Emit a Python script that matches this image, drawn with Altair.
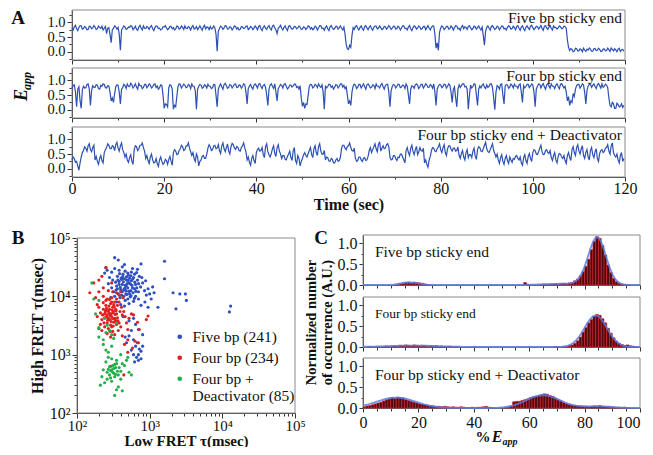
import altair as alt
import pandas as pd

FONT = "Liberation Serif, Times New Roman, DejaVu Serif, serif"
W, H = 637, 439
INK = "#111111"
TRACE_BLUE = "#2c50b4"
FIT_BLUE = "#5a7de0"
BAR_FILL = "#4a0a10"
BAR_EDGE = "#e0202a"
FRAME = "#8a8a8a"

# ---------------- Panel A : FRET traces (0.25 s sampling) ----------------
TIME = [i * 0.25 for i in range(480)]
TRACE_LABELS = ["Five bp sticky end", "Four bp sticky end", "Four bp sticky end + Deactivator"]

TRACE_FIVE = [
    0.80, 0.74, 0.85, 0.90, 0.78, 0.72, 0.83, 0.88, 0.88, 0.77, 0.79, 0.86, 0.82, 0.75, 0.76, 0.87, 0.86, 0.78, 0.81, 0.89,
    0.84, 0.76, 0.78, 0.87, 0.83, 0.79, 0.87, 0.74, 0.80, 0.86, 0.62, 0.80, 0.82, 0.58, 0.31, 0.75, 0.79, 0.88, 0.84, 0.77,
    0.83, 0.60, 0.05, 0.74, 0.80, 0.88, 0.85, 0.76, 0.78, 0.84, 0.83, 0.89, 0.86, 0.75, 0.80, 0.87, 0.77, 0.73, 0.84, 0.90,
    0.81, 0.74, 0.88, 0.80, 0.79, 0.86, 0.83, 0.76, 0.85, 0.89, 0.78, 0.72, 0.82, 0.88, 0.87, 0.79, 0.80, 0.74, 0.76, 0.85,
    0.84, 0.89, 0.81, 0.75, 0.79, 0.86, 0.86, 0.78, 0.82, 0.74, 0.78, 0.87, 0.85, 0.77, 0.80, 0.88, 0.83, 0.76, 0.88, 0.80,
    0.79, 0.86, 0.82, 0.74, 0.84, 0.89, 0.77, 0.80, 0.86, 0.75, 0.81, 0.88, 0.80, 0.73, 0.85, 0.90, 0.78, 0.84, 0.83, 0.75,
    0.86, 0.78, 0.80, 0.88, 0.82, 0.60, 0.02, 0.70, 0.79, 0.87, 0.84, 0.76, 0.81, 0.89, 0.87, 0.77, 0.78, 0.85, 0.83, 0.74,
    0.80, 0.88, 0.85, 0.77, 0.82, 0.74, 0.76, 0.86, 0.84, 0.79, 0.81, 0.87, 0.88, 0.75, 0.79, 0.86, 0.83, 0.75, 0.80, 0.88,
    0.82, 0.75, 0.86, 0.89, 0.78, 0.72, 0.83, 0.88, 0.80, 0.76, 0.84, 0.89, 0.79, 0.74, 0.87, 0.90, 0.81, 0.75, 0.62, 0.80,
    0.84, 0.90, 0.80, 0.74, 0.83, 0.88, 0.78, 0.72, 0.86, 0.89, 0.82, 0.77, 0.79, 0.86, 0.85, 0.78, 0.81, 0.88, 0.84, 0.76,
    0.77, 0.85, 0.83, 0.76, 0.80, 0.88, 0.86, 0.77, 0.82, 0.75, 0.79, 0.87, 0.84, 0.74, 0.81, 0.89, 0.88, 0.79, 0.80, 0.73,
    0.83, 0.88, 0.78, 0.72, 0.85, 0.89, 0.81, 0.76, 0.79, 0.86, 0.86, 0.77, 0.82, 0.88, 0.80, 0.74, 0.84, 0.60, 0.25, 0.10,
    0.08, 0.22, 0.15, 0.55, 0.82, 0.76, 0.86, 0.89, 0.80, 0.74, 0.83, 0.88, 0.78, 0.73, 0.85, 0.89, 0.81, 0.75, 0.84, 0.88,
    0.79, 0.73, 0.83, 0.87, 0.87, 0.78, 0.80, 0.88, 0.82, 0.75, 0.78, 0.86, 0.85, 0.77, 0.81, 0.89, 0.84, 0.76, 0.80, 0.87,
    0.86, 0.77, 0.79, 0.87, 0.83, 0.74, 0.81, 0.88, 0.88, 0.79, 0.80, 0.74, 0.84, 0.89, 0.78, 0.72, 0.82, 0.88, 0.85, 0.77,
    0.81, 0.88, 0.84, 0.76, 0.79, 0.86, 0.86, 0.75, 0.82, 0.89, 0.80, 0.74, 0.83, 0.88, 0.87, 0.60, 0.12, 0.30, 0.05, 0.65,
    0.81, 0.88, 0.84, 0.75, 0.80, 0.86, 0.86, 0.77, 0.79, 0.88, 0.83, 0.74, 0.82, 0.89, 0.88, 0.78, 0.80, 0.73, 0.84, 0.89,
    0.78, 0.85, 0.83, 0.76, 0.86, 0.89, 0.81, 0.75, 0.79, 0.87, 0.85, 0.77, 0.82, 0.88, 0.80, 0.74, 0.84, 0.55, 0.22, 0.70,
    0.83, 0.88, 0.80, 0.74, 0.86, 0.89, 0.82, 0.76, 0.79, 0.87, 0.84, 0.75, 0.81, 0.88, 0.87, 0.78, 0.80, 0.74, 0.83, 0.89,
    0.85, 0.77, 0.79, 0.87, 0.82, 0.75, 0.86, 0.89, 0.80, 0.73, 0.84, 0.88, 0.78, 0.72, 0.83, 0.88, 0.81, 0.76, 0.87, 0.90,
    0.82, 0.75, 0.80, 0.87, 0.85, 0.77, 0.83, 0.89, 0.79, 0.73, 0.86, 0.89, 0.81, 0.76, 0.84, 0.88, 0.80, 0.74, 0.88, 0.82,
    0.83, 0.77, 0.81, 0.88, 0.85, 0.78, 0.80, 0.87, 0.86, 0.80, 0.40, 0.15, 0.04, 0.11, 0.08, 0.00, 0.02, 0.12, 0.10, 0.03,
    0.03, 0.10, 0.07, 0.00, 0.12, 0.06, 0.01, 0.09, 0.06, 0.13, 0.09, 0.02, 0.02, 0.10, 0.11, 0.04, 0.05, 0.12, 0.08, 0.01,
    0.02, 0.09, 0.10, 0.03, 0.04, 0.12, 0.07, 0.01, 0.13, 0.08, 0.03, 0.10, 0.06, 0.00, 0.09, 0.12, 0.01, 0.06, 0.08, 0.02,
]

TRACE_FOUR = [
    0.72, 0.82, 0.85, 0.60, 0.10, 0.70, 0.78, 0.30, 0.05, 0.68, 0.80, 0.74, 0.75, 0.86, 0.88, 0.70, 0.15, 0.65, 0.82, 0.76,
    0.76, 0.86, 0.84, 0.72, 0.70, 0.83, 0.80, 0.88, 0.86, 0.75, 0.74, 0.82, 0.81, 0.60, 0.30, 0.40, 0.25, 0.55, 0.78, 0.85,
    0.83, 0.60, 0.20, 0.70, 0.75, 0.86, 0.82, 0.72, 0.88, 0.80, 0.79, 0.90, 0.85, 0.74, 0.80, 0.88, 0.77, 0.70, 0.90, 0.82,
    0.82, 0.72, 0.76, 0.86, 0.86, 0.75, 0.80, 0.88, 0.84, 0.74, 0.78, 0.86, 0.88, 0.76, 0.81, 0.70, 0.75, 0.85, 0.83, 0.50,
    0.05, 0.20, 0.18, 0.10, 0.75, 0.85, 0.82, 0.70, 0.02, 0.15, 0.10, 0.45, 0.79, 0.88, 0.86, 0.74, 0.80, 0.87, 0.84, 0.75,
    0.77, 0.86, 0.83, 0.72, 0.88, 0.80, 0.80, 0.65, 0.02, 0.70, 0.79, 0.86, 0.84, 0.73, 0.76, 0.85, 0.82, 0.74, 0.87, 0.80,
    0.80, 0.72, 0.75, 0.86, 0.85, 0.50, 0.10, 0.70, 0.81, 0.88, 0.78, 0.70, 0.86, 0.90, 0.82, 0.73, 0.76, 0.86, 0.84, 0.74,
    0.80, 0.87, 0.88, 0.76, 0.77, 0.84, 0.83, 0.73, 0.79, 0.88, 0.85, 0.60, 0.20, 0.72, 0.81, 0.86, 0.76, 0.70, 0.84, 0.88,
    0.82, 0.74, 0.87, 0.89, 0.79, 0.72, 0.83, 0.86, 0.76, 0.50, 0.15, 0.70, 0.84, 0.88, 0.80, 0.73, 0.88, 0.60, 0.30, 0.72,
    0.78, 0.86, 0.83, 0.74, 0.86, 0.89, 0.80, 0.71, 0.75, 0.84, 0.84, 0.77, 0.81, 0.88, 0.87, 0.76, 0.79, 0.70, 0.82, 0.40,
    0.12, 0.25, 0.05, 0.20, 0.18, 0.50, 0.80, 0.86, 0.85, 0.74, 0.78, 0.86, 0.83, 0.75, 0.88, 0.80, 0.76, 0.85, 0.60, 0.02,
    0.82, 0.74, 0.79, 0.87, 0.86, 0.76, 0.81, 0.70, 0.77, 0.86, 0.84, 0.74, 0.80, 0.88, 0.88, 0.77, 0.83, 0.72, 0.78, 0.50,
    0.20, 0.30, 0.15, 0.60, 0.80, 0.87, 0.84, 0.72, 0.77, 0.86, 0.86, 0.74, 0.81, 0.88, 0.79, 0.70, 0.85, 0.88, 0.82, 0.74,
    0.76, 0.85, 0.83, 0.72, 0.88, 0.80, 0.80, 0.74, 0.84, 0.89, 0.78, 0.70, 0.82, 0.86, 0.87, 0.60, 0.10, 0.65, 0.79, 0.86,
    0.84, 0.74, 0.80, 0.87, 0.86, 0.75, 0.77, 0.84, 0.82, 0.72, 0.88, 0.80, 0.50, 0.20, 0.70, 0.81, 0.79, 0.73, 0.85, 0.88,
    0.83, 0.72, 0.78, 0.86, 0.86, 0.74, 0.80, 0.88, 0.84, 0.76, 0.77, 0.86, 0.82, 0.73, 0.88, 0.60, 0.15, 0.70, 0.81, 0.86,
    0.84, 0.75, 0.79, 0.87, 0.86, 0.74, 0.80, 0.88, 0.83, 0.60, 0.25, 0.70, 0.78, 0.40, 0.10, 0.70, 0.85, 0.76, 0.82, 0.88,
    0.88, 0.78, 0.80, 0.70, 0.02, 0.50, 0.84, 0.74, 0.79, 0.88, 0.86, 0.50, 0.15, 0.70, 0.81, 0.74, 0.83, 0.88, 0.77, 0.72,
    0.85, 0.76, 0.80, 0.88, 0.88, 0.75, 0.40, 0.00, 0.60, 0.82, 0.79, 0.70, 0.86, 0.88, 0.50, 0.20, 0.81, 0.86, 0.84, 0.73,
    0.78, 0.87, 0.83, 0.74, 0.87, 0.80, 0.80, 0.73, 0.85, 0.88, 0.60, 0.25, 0.82, 0.74, 0.79, 0.86, 0.86, 0.75, 0.81, 0.88,
    0.84, 0.60, 0.10, 0.70, 0.80, 0.88, 0.87, 0.74, 0.83, 0.89, 0.78, 0.70, 0.85, 0.88, 0.82, 0.73, 0.88, 0.80, 0.80, 0.72,
    0.84, 0.88, 0.79, 0.71, 0.86, 0.89, 0.82, 0.74, 0.80, 0.60, 0.30, 0.45, 0.15, 0.30, 0.25, 0.55, 0.45, 0.70, 0.82, 0.86,
    0.86, 0.74, 0.80, 0.88, 0.84, 0.60, 0.20, 0.65, 0.81, 0.86, 0.87, 0.76, 0.83, 0.88, 0.79, 0.72, 0.85, 0.89, 0.82, 0.74,
    0.88, 0.76, 0.80, 0.87, 0.84, 0.75, 0.40, 0.15, 0.10, 0.25, 0.20, 0.05, 0.05, 0.22, 0.18, 0.10, 0.12, 0.20, 0.08, 0.15,
]

TRACE_DEACT = [
    0.30, 0.40, 0.35, 0.22, 0.25, 0.10, -0.05, 0.20, 0.40, 0.55, 0.62, 0.75, 0.70, 0.60, 0.78, 0.85, 0.65, 0.58, 0.72, 0.80,
    0.30, 0.42, 0.25, 0.15, 0.35, 0.45, 0.28, 0.20, 0.55, 0.65, 0.72, 0.85, 0.80, 0.68, 0.68, 0.78, 0.75, 0.62, 0.82, 0.90,
    0.70, 0.60, 0.78, 0.88, 0.65, 0.55, 0.40, 0.50, 0.30, 0.22, 0.38, 0.48, 0.25, 0.15, 0.65, 0.78, 0.75, 0.62, 0.68, 0.80,
    0.80, 0.88, 0.72, 0.60, 0.35, 0.45, 0.28, 0.18, 0.40, 0.50, 0.30, 0.20, 0.22, 0.35, 0.18, 0.08, 0.30, 0.40, 0.25, 0.15,
    0.20, 0.32, 0.28, 0.15, 0.32, 0.42, 0.25, 0.12, 0.55, 0.65, 0.60, 0.48, 0.50, 0.62, 0.68, 0.80, 0.75, 0.62, 0.65, 0.78,
    0.78, 0.88, 0.70, 0.58, 0.45, 0.55, 0.35, 0.25, 0.50, 0.40, 0.10, 0.25, 0.30, 0.42, 0.45, 0.35, 0.35, 0.50, 0.70, 0.82,
    0.75, 0.62, 0.65, 0.78, 0.80, 0.68, 0.70, 0.82, 0.62, 0.52, 0.78, 0.88, 0.68, 0.58, 0.72, 0.84, 0.60, 0.50, 0.75, 0.86,
    0.82, 0.70, 0.66, 0.76, 0.73, 0.62, 0.60, 0.72, 0.78, 0.88, 0.70, 0.58, 0.30, 0.40, 0.22, 0.12, 0.35, 0.45, 0.28, 0.18,
    0.55, 0.65, 0.70, 0.60, 0.62, 0.72, 0.48, 0.38, 0.75, 0.85, 0.58, 0.48, 0.40, 0.52, 0.68, 0.78, 0.52, 0.42, 0.72, 0.82,
    0.60, 0.50, 0.35, 0.45, 0.45, 0.32, 0.30, 0.42, 0.50, 0.60, 0.38, 0.28, 0.62, 0.72, 0.28, 0.18, 0.45, 0.35, 0.10, 0.25,
    0.35, 0.48, 0.55, 0.45, 0.40, 0.52, 0.62, 0.72, 0.48, 0.38, 0.68, 0.78, 0.55, 0.45, 0.75, 0.85, 0.60, 0.50, 0.50, 0.62,
    0.30, 0.40, 0.38, 0.26, 0.25, 0.35, 0.32, 0.20, 0.20, 0.30, 0.35, 0.25, 0.28, 0.40, 0.70, 0.80, 0.80, 0.70, 0.65, 0.76,
    0.78, 0.88, 0.72, 0.62, 0.60, 0.70, 0.35, 0.25, 0.28, 0.40, 0.40, 0.30, 0.25, 0.36, 0.38, 0.28, 0.30, 0.42, 0.62, 0.72,
    0.55, 0.65, 0.75, 0.85, 0.68, 0.58, 0.82, 0.92, 0.60, 0.70, 0.78, 0.68, 0.70, 0.82, 0.85, 0.75, 0.40, 0.30, 0.32, 0.45,
    0.45, 0.35, 0.28, 0.40, 0.38, 0.50, 0.50, 0.40, 0.30, 0.20, 0.62, 0.72, 0.55, 0.45, 0.70, 0.80, 0.58, 0.48, 0.65, 0.76,
    0.48, 0.58, 0.72, 0.62, 0.60, 0.70, 0.20, 0.30, 0.15, 0.05, 0.30, 0.42, 0.62, 0.72, 0.70, 0.60, 0.58, 0.68, 0.75, 0.85,
    0.65, 0.55, 0.72, 0.82, 0.55, 0.45, 0.68, 0.78, 0.78, 0.66, 0.60, 0.70, 0.70, 0.60, 0.62, 0.74, 0.45, 0.35, 0.52, 0.62,
    0.40, 0.30, 0.55, 0.65, 0.38, 0.48, 0.48, 0.38, 0.60, 0.70, 0.42, 0.32, 0.65, 0.75, 0.72, 0.60, 0.58, 0.68, 0.80, 0.90,
    0.68, 0.58, 0.55, 0.65, 0.75, 0.85, 0.62, 0.52, 0.40, 0.50, 0.30, 0.18, 0.38, 0.48, 0.25, 0.15, 0.35, 0.45, 0.28, 0.18,
    0.40, 0.30, 0.22, 0.35, 0.32, 0.42, 0.45, 0.35, 0.30, 0.40, 0.20, 0.12, 0.38, 0.48, 0.28, 0.18, 0.42, 0.52, 0.35, 0.25,
    0.55, 0.65, 0.62, 0.50, 0.48, 0.58, 0.70, 0.80, 0.58, 0.48, 0.50, 0.62, 0.65, 0.55, 0.52, 0.62, 0.38, 0.28, 0.45, 0.55,
    0.30, 0.20, 0.42, 0.52, 0.50, 0.40, 0.35, 0.45, 0.28, 0.18, 0.45, 0.55, 0.38, 0.28, 0.65, 0.75, 0.55, 0.45, 0.72, 0.82,
    0.60, 0.50, 0.68, 0.78, 0.45, 0.35, 0.55, 0.65, 0.40, 0.30, 0.62, 0.72, 0.48, 0.38, 0.58, 0.68, 0.35, 0.25, 0.52, 0.62,
    0.65, 0.55, 0.58, 0.70, 0.72, 0.82, 0.60, 0.50, 0.78, 0.88, 0.55, 0.45, 0.40, 0.50, 0.30, 0.20, 0.45, 0.55, 0.25, 0.35,
]

# ---------------- Panel B : dwell times (low FRET tau, high FRET tau) in msec ----------------
LEGEND_LABELS = ["Five bp (241)", "Four bp (234)", "Four bp + Deactivator (85)"]
SCATTER_COLORS = ["#2f4fc0", "#e02020", "#22b04a"]

FIVE_BP = [
    (320, 12000), (350, 15000), (380, 18000), (400, 13000), (420, 16000), (450, 20000), (470, 11000),
    (500, 14000), (520, 17000), (550, 12500), (360, 22000), (390, 9500), (430, 24000), (460, 8500),
    (480, 19000), (510, 23000), (540, 9800), (570, 15500), (600, 21000), (620, 13500), (340, 17500),
    (370, 11000), (410, 10500), (440, 13000), (490, 16500), (530, 20500), (560, 18500), (590, 11500),
    (640, 16000), (680, 19000), (700, 12000), (720, 22000), (750, 14500), (800, 17000), (850, 12500),
    (900, 10500), (950, 13500), (1000, 11000), (1050, 9000), (300, 26000), (330, 30000), (380, 28000),
    (420, 32000), (460, 27000), (500, 25000), (560, 26000), (620, 24000), (660, 25500), (300, 14000),
    (310, 19000), (280, 21000), (260, 28000), (250, 31000), (240, 25000), (270, 16500), (290, 9500),
    (350, 8000), (400, 7200), (450, 6800), (520, 7500), (600, 8200), (700, 9000), (760, 7000),
    (860, 8000), (950, 6500), (1150, 11500), (1100, 14500), (880, 18500), (780, 21000), (680, 29000),
    (580, 30000), (450, 35000), (330, 46000), (370, 42000), (760, 36000), (1600, 40000), (1600, 20000),
    (2100, 11500), (2600, 11000), (3100, 11000), (3200, 8500), (2300, 6100), (1300, 6500),
    (12500, 5400), (13000, 6800), (430, 4500), (520, 3800), (600, 4200), (640, 3300), (560, 2600),
    (520, 2100), (600, 1800), (680, 1600), (640, 1400), (720, 1250), (800, 1400), (560, 1200),
    (600, 1000), (660, 900), (700, 800), (760, 850), (620, 750), (700, 1000), (760, 1150), (480, 1600),
    (460, 2000), (700, 2700), (800, 2200), (350, 3800), (440, 10000), (470, 12500), (410, 19500),
    (380, 16000), (530, 11000), (580, 14000), (640, 10000), (500, 9000), (360, 13500), (330, 10000),
    (460, 15500), (420, 12000), (480, 21500), (550, 22500), (395, 14200), (435, 17800), (475, 15200),
    (515, 12200), (455, 13800), (405, 20500), (365, 19000), (545, 16200), (585, 19800), (625, 17500),
    (665, 14000), (705, 16500), (505, 18800), (425, 21800), (385, 24500), (345, 12800), (555, 10200),
    (615, 9200), (645, 12200), (485, 10800),
]

FOUR_BP = [
    (220, 4000), (240, 5000), (260, 3500), (280, 6000), (300, 4500), (320, 5500), (340, 3800),
    (250, 7000), (270, 2800), (290, 3200), (310, 6500), (330, 4200), (350, 5000), (230, 6000),
    (260, 4800), (280, 4000), (300, 3000), (320, 3600), (240, 3000), (270, 5600), (290, 7500),
    (310, 2500), (340, 6000), (360, 4300), (380, 3500), (210, 5200), (230, 7800), (250, 8500),
    (280, 8800), (300, 9500), (330, 8000), (360, 7000), (390, 5500), (420, 4800), (400, 3000),
    (370, 2600), (260, 2300), (290, 2000), (330, 2200), (200, 6500), (190, 7200), (210, 3300),
    (220, 2600), (350, 3300), (310, 5200), (270, 4300), (250, 5800), (320, 7200), (290, 5000),
    (240, 4300), (350, 9000), (380, 8000), (410, 6500), (440, 5500), (460, 4500), (480, 3500),
    (500, 2700), (520, 4200), (560, 5000), (600, 4800), (680, 3600), (720, 2700), (900, 4000),
    (950, 4600), (700, 1600), (630, 1700), (580, 1300), (500, 1800), (450, 1500), (420, 2100),
    (440, 450), (290, 630), (500, 1100), (170, 17000), (200, 19000), (250, 31000), (230, 14000),
    (200, 12000), (270, 12500), (310, 12000), (350, 11500), (180, 9500), (300, 17000), (220, 22000),
    (260, 9000), (230, 10000), (380, 10500), (430, 9500), (400, 12000), (190, 4500), (200, 2800),
    (150, 11500), (265, 3900), (285, 4700), (305, 5800), (325, 4100), (245, 5400), (275, 6800),
    (295, 3700), (315, 3100), (335, 4900), (255, 4400), (225, 4800), (345, 5700), (365, 3800),
    (235, 3500), (285, 2500), (305, 4200), (275, 5200), (255, 6200), (325, 6600), (300, 8000),
]

FOUR_BP_DEACT = [
    (260, 500), (280, 450), (300, 550), (320, 480), (340, 600), (360, 520), (290, 400), (310, 650),
    (330, 420), (270, 560), (350, 700), (300, 350), (320, 580), (280, 620), (340, 460), (260, 380),
    (310, 500), (290, 530), (330, 680), (370, 450), (380, 600), (400, 520), (420, 700), (450, 650),
    (480, 800), (500, 900), (350, 800), (300, 850), (270, 900), (250, 750), (230, 550), (220, 420),
    (240, 330), (210, 300), (350, 250), (370, 280), (330, 200), (420, 240), (400, 380), (520, 500),
    (560, 450), (250, 1200), (230, 1500), (200, 2000), (300, 2200), (280, 2600), (250, 2400),
    (350, 3500), (320, 1900), (180, 5000), (170, 9000), (160, 17000), (200, 2900), (230, 1800),
    (400, 1000), (270, 1100), (300, 1400), (260, 3200), (240, 4200), (200, 8500),
]

# ---------------- Panel C : E_app histograms (1 % bins) and fits ----------------
PANEL_C_LABELS = ["Five bp sticky end", "Four bp sticky end", "Four bp sticky end + Deactivator"]
BINS = list(range(100))
HIST_FIVE = [
    0, 0, 0, 0, 0, 0, 0, 0, 0, 0,
    0, 0, 0.01, 0.03, 0.04, 0.06, 0.07, 0.05, 0.07, 0.06,
    0.05, 0.04, 0.02, 0.01, 0, 0, 0, 0, 0, 0,
    0, 0, 0, 0, 0, 0, 0, 0, 0, 0,
    0, 0, 0, 0, 0, 0, 0, 0, 0, 0,
    0, 0, 0, 0, 0, 0, 0, 0, 0.06, 0.02,
    0, 0, 0, 0, 0.01, 0.02, 0.01, 0.02, 0.02, 0.03,
    0.02, 0.03, 0.04, 0.03, 0.05, 0.06, 0.10, 0.14, 0.22, 0.32,
    0.45, 0.62, 0.85, 1.05, 1.16, 1.12, 0.95, 0.72, 0.48, 0.30,
    0.16, 0.08, 0.04, 0.02, 0.01, 0.01, 0, 0, 0, 0,
]
HIST_FOUR = [
    0, 0, 0.01, 0, 0, 0.01, 0, 0.01, 0.02, 0.01,
    0.02, 0.03, 0.02, 0.04, 0.03, 0.05, 0.04, 0.03, 0.05, 0.04,
    0.03, 0.04, 0.03, 0.02, 0.03, 0.02, 0.03, 0.01, 0.02, 0.01,
    0.01, 0.02, 0, 0.01, 0, 0, 0, 0, 0, 0,
    0, 0, 0, 0, 0, 0, 0, 0, 0, 0,
    0, 0, 0, 0, 0, 0, 0, 0, 0, 0,
    0, 0, 0, 0, 0, 0, 0, 0, 0, 0.01,
    0.01, 0, 0.02, 0.01, 0.03, 0.05, 0.09, 0.15, 0.24, 0.36,
    0.47, 0.58, 0.66, 0.74, 0.78, 0.76, 0.68, 0.58, 0.45, 0.33,
    0.22, 0.14, 0.09, 0.06, 0.04, 0.05, 0.03, 0.02, 0.01, 0,
]
HIST_DEACT = [
    0.03, 0.05, 0.06, 0.08, 0.10, 0.12, 0.14, 0.17, 0.20, 0.22,
    0.25, 0.23, 0.26, 0.25, 0.24, 0.20, 0.18, 0.16, 0.14, 0.12,
    0.10, 0.09, 0.08, 0.06, 0.06, 0.05, 0.04, 0.04, 0.03, 0.04,
    0.03, 0.02, 0.03, 0.02, 0.02, 0.03, 0.02, 0.01, 0.01, 0.02,
    0.01, 0.02, 0.02, 0.03, 0.04, 0.02, 0.01, 0, 0, 0,
    0, 0.01, 0.02, 0.05, 0.15, 0.16, 0.16, 0.18, 0.20, 0.22,
    0.25, 0.27, 0.28, 0.30, 0.32, 0.34, 0.33, 0.30, 0.28, 0.24,
    0.20, 0.17, 0.13, 0.10, 0.08, 0.07, 0.06, 0.05, 0.05, 0.04,
    0.04, 0.03, 0.04, 0.05, 0.04, 0.06, 0.04, 0.03, 0.03, 0.02,
    0.02, 0.01, 0.02, 0.01, 0.02, 0.01, 0, 0, 0, 0,
]
FIT_X = list(range(101))
FIT_FIVE = [
    0, 0, 0, 0, 0, 0, 0, 0, 0, 0,
    0.005, 0.01, 0.02, 0.03, 0.045, 0.055, 0.06, 0.062, 0.058, 0.05,
    0.04, 0.028, 0.018, 0.01, 0.005, 0.002, 0, 0, 0, 0,
    0, 0, 0, 0, 0, 0, 0, 0, 0, 0,
    0, 0, 0, 0, 0, 0, 0, 0, 0, 0,
    0, 0, 0, 0, 0, 0, 0, 0, 0, 0,
    0.005, 0.007, 0.01, 0.012, 0.015, 0.018, 0.02, 0.022, 0.024, 0.026,
    0.028, 0.03, 0.032, 0.034, 0.036, 0.045, 0.065, 0.10, 0.17, 0.28,
    0.44, 0.64, 0.85, 1.03, 1.14, 1.14, 1.03, 0.85, 0.63, 0.43,
    0.26, 0.15, 0.075, 0.035, 0.015, 0.006, 0.002, 0, 0, 0,
    0,
]
FIT_FOUR = [
    0.005, 0.006, 0.007, 0.008, 0.01, 0.012, 0.014, 0.016, 0.019, 0.021,
    0.024, 0.026, 0.028, 0.03, 0.032, 0.033, 0.034, 0.035, 0.035, 0.035,
    0.034, 0.033, 0.032, 0.03, 0.028, 0.026, 0.024, 0.021, 0.019, 0.016,
    0.014, 0.012, 0.01, 0.008, 0.007, 0.006, 0.005, 0.004, 0.003, 0.002,
    0.002, 0.001, 0, 0, 0, 0, 0, 0, 0, 0,
    0, 0, 0, 0, 0, 0, 0, 0, 0, 0,
    0, 0, 0, 0, 0, 0, 0, 0, 0.001, 0.001,
    0.002, 0.004, 0.008, 0.017, 0.033, 0.06, 0.103, 0.164, 0.247, 0.348,
    0.461, 0.574, 0.671, 0.737, 0.76, 0.737, 0.671, 0.574, 0.461, 0.348,
    0.247, 0.164, 0.103, 0.06, 0.033, 0.017, 0.008, 0.004, 0.002, 0.001,
    0,
]
FIT_DEACT = [
    0.057, 0.073, 0.09, 0.109, 0.13, 0.152, 0.173, 0.194, 0.212, 0.228,
    0.24, 0.247, 0.25, 0.247, 0.24, 0.228, 0.212, 0.194, 0.173, 0.152,
    0.13, 0.109, 0.09, 0.073, 0.057, 0.045, 0.034, 0.025, 0.018, 0.013,
    0.009, 0.006, 0.004, 0.003, 0.002, 0.001, 0, 0, 0, 0,
    0, 0, 0, 0, 0, 0, 0, 0.001, 0.003, 0.006,
    0.014, 0.02, 0.03, 0.042, 0.058, 0.077, 0.101, 0.127, 0.157, 0.188,
    0.219, 0.248, 0.273, 0.293, 0.306, 0.31, 0.306, 0.293, 0.273, 0.248,
    0.219, 0.19, 0.16, 0.132, 0.107, 0.086, 0.07, 0.058, 0.05, 0.044,
    0.042, 0.04, 0.04, 0.041, 0.042, 0.042, 0.041, 0.039, 0.035, 0.03,
    0.025, 0.02, 0.015, 0.011, 0.008, 0.005, 0.003, 0.002, 0.001, 0,
    0,
]

# ---------------- layout (pixels inside the plot area) ----------------
A_X = [64, 617]
A_ROWS = [(2, 52), (60, 110), (119, 169)]
A_XDOM = [0, 120]
A_YDOM = [-0.28, 1.42]
B_X = [69, 287]
B_Y = (230, 405)
B_DOM = [100, 100000]
C_X = [355, 632]
C_ROWS = [(227, 277), (289, 339), (350, 400)]
C_XDOM = [0, 100]
C_YDOM = [0, 1.2]


def lin(dom, rng):
    return alt.Scale(domain=dom, range=rng, zero=False, nice=False)


def logs(rng):
    return alt.Scale(type="log", domain=B_DOM, range=rng, nice=False)


def tsize(test, major, minor):
    return {"condition": {"test": test, "value": major}, "value": minor}


def frame(xsc, ysc, xdom, ydom):
    df = pd.DataFrame({"x0": [xdom[0]], "x1": [xdom[1]], "y0": [ydom[0]], "y1": [ydom[1]]})
    return alt.Chart(df).mark_rect(fillOpacity=0, stroke=FRAME, strokeWidth=1).encode(
        x=alt.X("x0:Q", scale=xsc, axis=None), x2="x1:Q",
        y=alt.Y("y0:Q", scale=ysc, axis=None), y2="y1:Q")


def note(text, x, y, size, weight="normal", style="normal", angle=0, align="center"):
    return alt.Chart(pd.DataFrame({"s": [text]})).mark_text(
        font=FONT, fontSize=size, fontWeight=weight, fontStyle=style, angle=angle,
        align=align, baseline="middle", color=INK).encode(
        text="s:N", x=alt.value(x), y=alt.value(y))


layers = []

# ---- Panel A ----
for i, vals in enumerate([TRACE_FIVE, TRACE_FOUR, TRACE_DEACT]):
    top, bot = A_ROWS[i]
    last = i == 2
    xsc = lin(A_XDOM, A_X)
    ysc = lin(A_YDOM, [bot, top])
    xaxis = alt.Axis(orient="bottom", offset=bot - H, values=list(range(0, 121, 10)),
                     tickSize=tsize("datum.value % 20 === 0", 4, 2), labels=last,
                     labelExpr="datum.value % 20 === 0 ? datum.label : ''",
                     labelPadding=-1, title="Time (sec)" if last else None, titlePadding=0)
    yaxis = alt.Axis(orient="left", offset=-A_X[0], values=[-0.25, 0, 0.25, 0.5, 0.75, 1.0, 1.25],
                     format=".1f", tickSize=tsize("(datum.value * 4) % 2 === 0", 5, 3),
                     labelExpr="(datum.value * 4) % 2 === 0 ? datum.label : ''",
                     labelPadding=2, labelFontSize=14.5, title=None)
    df = pd.DataFrame({"t": TIME, "e": vals})
    layers.append(frame(xsc, ysc, A_XDOM, A_YDOM))
    layers.append(alt.Chart(df).mark_line(color=TRACE_BLUE, strokeWidth=1.2).encode(
        x=alt.X("t:Q", scale=xsc, axis=xaxis), y=alt.Y("e:Q", scale=ysc, axis=yaxis)))
    lab = pd.DataFrame({"x": [A_XDOM[1]], "y": [1.14], "s": [TRACE_LABELS[i]]})
    layers.append(alt.Chart(lab).mark_text(font=FONT, fontSize=15.5, align="right", baseline="middle",
                                           dx=-3, color=INK).encode(
        x=alt.X("x:Q", scale=xsc, axis=None), y=alt.Y("y:Q", scale=ysc, axis=None), text="s:N"))

# ---- Panel B ----
rows = []
for name, pts in zip(LEGEND_LABELS, [FIVE_BP, FOUR_BP, FOUR_BP_DEACT]):
    for lo, hi in pts:
        rows.append({"low": lo, "high": hi, "group": name})
sdf = pd.DataFrame(rows)
LOG_TICKS = [m * 10 ** k for k in range(2, 5) for m in range(1, 10)] + [100000]
DECADE = "indexof([100, 1000, 10000, 100000], datum.value) >= 0"
SUP = ("datum.value == 100 ? '10\u00b2' : datum.value == 1000 ? '10\u00b3' : "
       "datum.value == 10000 ? '10\u2074' : datum.value == 100000 ? '10\u2075' : ''")
bx = logs(B_X)
by = logs([B_Y[1], B_Y[0]])
layers.append(frame(bx, by, B_DOM, B_DOM))
layers.append(alt.Chart(sdf).mark_circle(size=10, opacity=1).encode(
    x=alt.X("low:Q", scale=bx, axis=alt.Axis(
        orient="bottom", offset=B_Y[1] - H, values=LOG_TICKS, tickSize=tsize(DECADE, 5, 3),
        labelExpr=SUP, labelPadding=0, labelFontSize=15, title="Low FRET \u03c4(msec)",
        titlePadding=0, titleFontSize=15)),
    y=alt.Y("high:Q", scale=by, axis=alt.Axis(
        orient="left", offset=-B_X[0], values=LOG_TICKS, tickSize=tsize(DECADE, 5, 3),
        labelExpr=SUP, labelPadding=2, title="High FRET \u03c4(msec)", titlePadding=3)),
    color=alt.Color("group:N", scale=alt.Scale(domain=LEGEND_LABELS, range=SCATTER_COLORS),
                    legend=alt.Legend(orient="none", legendX=164, legendY=321, title=None,
                                      labelFont=FONT, labelFontSize=15.5, labelColor=INK,
                                      symbolType="circle", symbolSize=22, symbolStrokeWidth=0,
                                      rowPadding=4, labelOffset=5,
                                      labelExpr="datum.label == 'Four bp + Deactivator (85)' ? ['Four bp +', 'Deactivator (85)'] : datum.label"))))

# ---- Panel C ----
for i, (hist, fit) in enumerate([(HIST_FIVE, FIT_FIVE), (HIST_FOUR, FIT_FOUR), (HIST_DEACT, FIT_DEACT)]):
    top, bot = C_ROWS[i]
    last = i == 2
    xsc = lin(C_XDOM, C_X)
    ysc = lin(C_YDOM, [bot, top])
    xaxis = alt.Axis(orient="bottom", offset=bot - H, values=list(range(0, 101, 5)),
                     tickSize=tsize("datum.value % 20 === 0", 4, 3), labels=last,
                     labelExpr="datum.value % 20 === 0 ? datum.label : ''",
                     labelAlign={"condition": {"test": "datum.value === 100", "value": "right"},
                                 "value": "center"},
                     labelPadding=2, title=None)
    ytitle = ["Normalized number", "of occurrence (A.U.)"] if i == 1 else None
    yaxis = alt.Axis(orient="left", offset=-C_X[0], values=[0, 0.25, 0.5, 0.75, 1.0], format=".1f",
                     tickSize=tsize("(datum.value * 4) % 2 === 0", 4, 2),
                     labelExpr="(datum.value * 4) % 2 === 0 ? datum.label : ''",
                     labelPadding=2, title=ytitle, titleFontSize=14.5, titleLineHeight=16,
                     titlePadding=3)
    hdf = pd.DataFrame({"b0": BINS, "h": hist})
    hdf["b1"] = hdf["b0"] + 1
    hdf["z"] = 0.0
    hdf = hdf[hdf["h"] > 0]
    fdf = pd.DataFrame({"x": FIT_X, "y": fit})
    layers.append(frame(xsc, ysc, C_XDOM, C_YDOM))
    layers.append(alt.Chart(hdf).mark_rect(fill=BAR_FILL, stroke=BAR_EDGE, strokeWidth=0.6).encode(
        x=alt.X("b0:Q", scale=xsc, axis=xaxis), x2="b1:Q",
        y=alt.Y("h:Q", scale=ysc, axis=yaxis), y2="z:Q"))
    layers.append(alt.Chart(fdf).mark_line(color=FIT_BLUE, strokeWidth=1.8, opacity=0.85).encode(
        x=alt.X("x:Q", scale=xsc, axis=None), y=alt.Y("y:Q", scale=ysc, axis=None)))
    lab = pd.DataFrame({"x": [4.3], "y": [0.8], "s": [PANEL_C_LABELS[i]]})
    layers.append(alt.Chart(lab).mark_text(font=FONT, fontSize=13.5 if i == 1 else 15.5, align="left",
                                           baseline="middle", color=INK).encode(
        x=alt.X("x:Q", scale=xsc, axis=None), y=alt.Y("y:Q", scale=ysc, axis=None), text="s:N"))

# ---- annotations ----
layers += [
    note("A", 10, 10, 19, weight="bold"),
    note("B", 10, 230, 19, weight="bold"),
    note("C", 313, 230, 19, weight="bold"),
    note("E", 14, 87, 18, weight="bold", style="italic", angle=270),
    note("app", 19, 73, 12, weight="bold", style="italic", angle=270),
    note("%", 475, 429, 15, weight="bold"),
    note("E", 489, 429, 16, weight="bold", style="italic"),
    note("app", 502, 434, 10, weight="bold", style="italic"),
]

chart = alt.layer(*layers).resolve_scale(
    x="independent", y="independent"
).resolve_axis(
    x="independent", y="independent"
).properties(
    width=W, height=H, padding=0, autosize=alt.AutoSizeParams(type="none")
).configure_view(stroke=None).configure_axis(
    domainColor="#333333", tickColor="#333333", labelColor=INK, labelFont=FONT, labelFontSize=16,
    titleFont=FONT, titleFontSize=16, titleFontWeight="bold", titleColor=INK,
    labelFlush=False, labelOverlap=False, grid=False, tickWidth=1, domainWidth=1
)

chart.save("out.html", embed_options={"renderer": "svg", "actions": False})
